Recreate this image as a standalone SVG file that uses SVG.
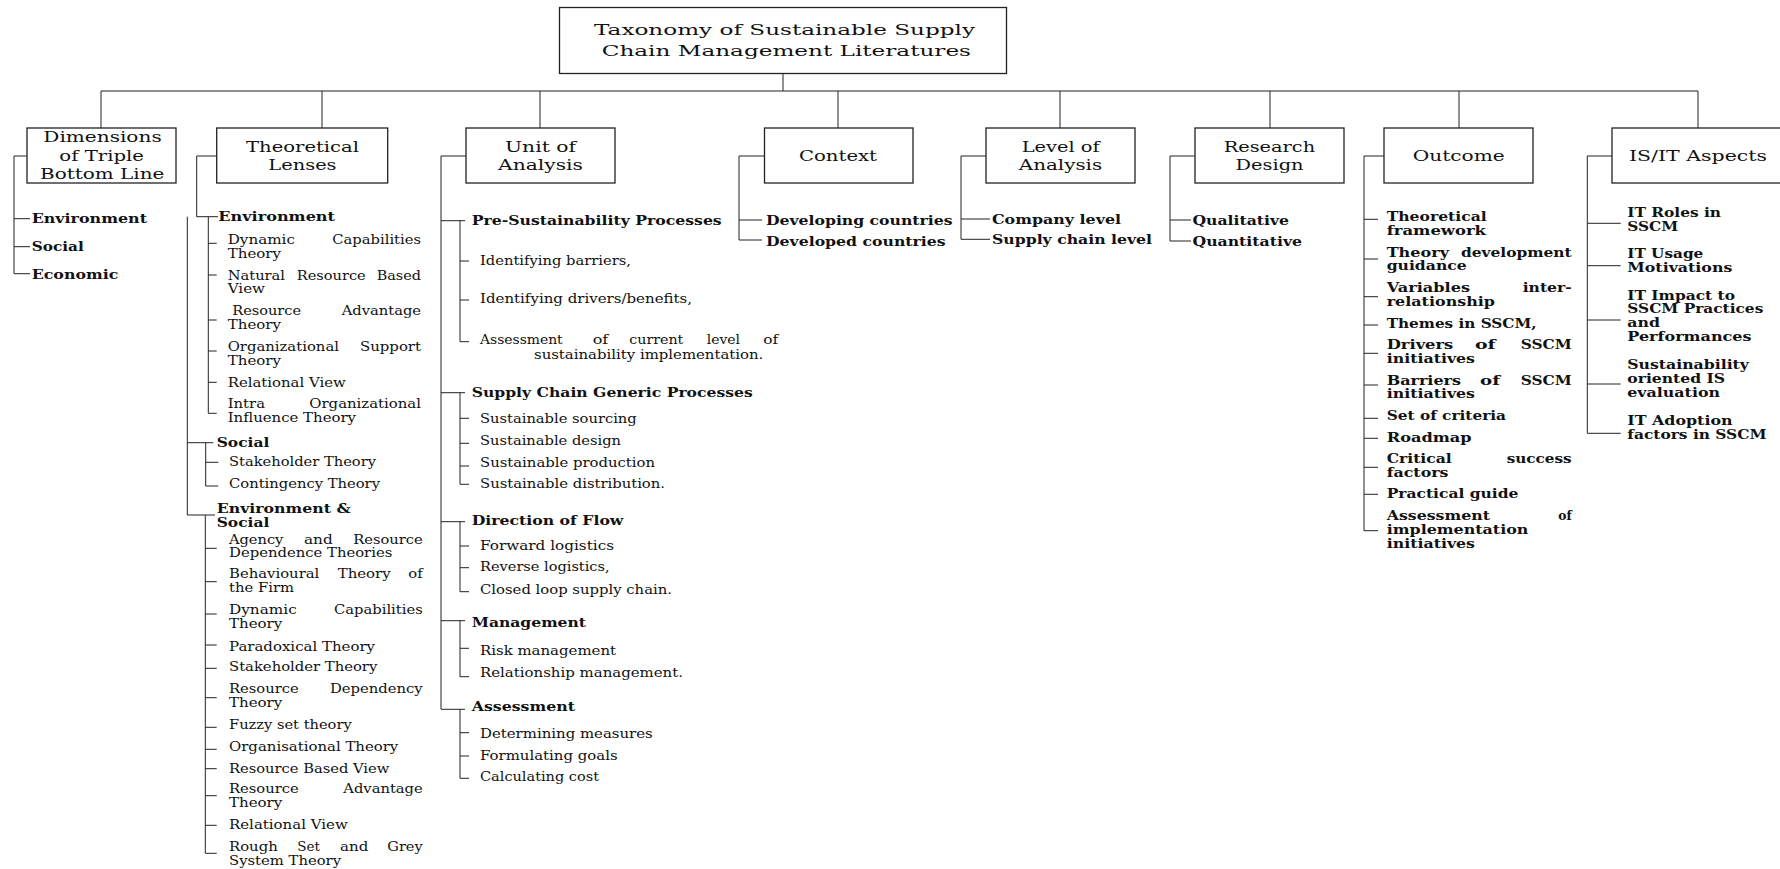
<svg xmlns="http://www.w3.org/2000/svg" width="1780" height="869" viewBox="0 0 1780 869">
<style>
.bx{fill:#fff;stroke:#222;stroke-width:1.3}
.c path{fill:none;stroke:#222;stroke-width:1}
text{font-family:"DejaVu Serif","Liberation Serif",serif;fill:#111}
.h{font-size:15px}
.i{font-size:12.5px}
.ib{font-size:12.5px;font-weight:bold}
</style>
<rect width="1780" height="869" fill="#fff"/>
<g class="c" id="connectors">
<path d="M783 74V91M101 91H1698M101 91V128M322 91V128M540 91V128M838 91V128M1060 91V128M1270 91V128M1459 91V128M1698 91V128"/>
<path d="M27 156H14V273.7H30M14 218.7H30M14 246.7H30"/>
<path d="M216.7 156H196.7V216.7H218M208.3 216.7V413.3H216.7M208.3 243.3H216.7M208.3 275H216.7M208.3 320H216.7M208.3 351H216.7M208.3 382.3H216.7"/>
<path d="M187.3 216.7V515H215M187.3 442.7H213.3M205.7 442.7V486H218.3M205.7 462.3H218.3"/>
<path d="M205.3 515V853.3H216.7M205.3 548.3H216.7M205.3 581.7H216.7M205.3 614H216.7M205.3 645H216.7M205.3 668.3H216.7M205.3 697.7H216.7M205.3 727.3H216.7M205.3 749.3H216.7M205.3 768.7H216.7M205.3 795.7H216.7M205.3 825.3H216.7"/>
<path d="M466 156H441V709.3H465M441 220.7H465M441 392.7H465M441 521.7H465M441 620.7H465"/>
<path d="M460 220.7V341.7H469M460 261H469M460 300H469M460 392.7V484.3H469M460 418.3H469M460 443.3H469M460 466H469M460 521.7V591.7H469M460 546H469M460 567.7H469M460 620.7V676.7H469M460 648.3H469M460 709.3V778.3H469M460 732.7H469M460 756H469"/>
<path d="M764.5 156H739V240H762M739 220H762"/>
<path d="M986 156H961V239.3H990M961 219H990"/>
<path d="M1195 156H1170V241H1191M1170 220H1191"/>
<path d="M1384 156H1364V530.7H1378M1364 219.3H1378M1364 259H1378M1364 296.7H1378M1364 325H1378M1364 353.3H1378M1364 385H1378M1364 418.3H1378M1364 438.3H1378M1364 467.3H1378M1364 494.3H1378"/>
<path d="M1612 156H1587.3V433.3H1620.7M1587.3 223.3H1620.7M1587.3 265.7H1620.7M1587.3 320H1620.7M1587.3 384H1620.7"/>
</g>

<g id="title">
<rect class="bx" x="559.5" y="7.5" width="447" height="66"/>
<text class="h" x="594" y="34.5" textLength="381" lengthAdjust="spacingAndGlyphs">Taxonomy of Sustainable Supply</text>
<text class="h" x="601.7" y="56" textLength="369.3" lengthAdjust="spacingAndGlyphs">Chain Management Literatures</text>
</g>

<g id="dimensions">
<rect class="bx" x="27" y="128" width="149" height="55"/>
<text class="h" x="43.3" y="142.3" textLength="118.4" lengthAdjust="spacingAndGlyphs">Dimensions</text>
<text class="h" x="59.3" y="161" textLength="84.7" lengthAdjust="spacingAndGlyphs">of Triple</text>
<text class="h" x="40" y="179.3" textLength="124.3" lengthAdjust="spacingAndGlyphs">Bottom Line</text>
</g>
<g id="dim-items">
<text class="ib" x="31.7" y="222.7" textLength="115.3" lengthAdjust="spacingAndGlyphs">Environment</text>
<text class="ib" x="31.7" y="250.7" textLength="52" lengthAdjust="spacingAndGlyphs">Social</text>
<text class="ib" x="31.7" y="278.7" textLength="86.6" lengthAdjust="spacingAndGlyphs">Economic</text>
</g>

<g id="theoretical">
<rect class="bx" x="216.7" y="128" width="171" height="55"/>
<text class="h" x="246" y="151.7" textLength="113" lengthAdjust="spacingAndGlyphs">Theoretical</text>
<text class="h" x="268.3" y="170" textLength="68.3" lengthAdjust="spacingAndGlyphs">Lenses</text>
</g>
<g id="th-environment">
<text class="ib" x="218.3" y="220.7" textLength="116.7" lengthAdjust="spacingAndGlyphs">Environment</text>
<text class="i" x="227.7" y="244" textLength="67.3" lengthAdjust="spacingAndGlyphs">Dynamic</text>
<text class="i" x="332.3" y="244" textLength="88.7" lengthAdjust="spacingAndGlyphs">Capabilities</text>
<text class="i" x="227.7" y="257.7" textLength="53.3" lengthAdjust="spacingAndGlyphs">Theory</text>
<text class="i" x="227.7" y="280" textLength="57.3" lengthAdjust="spacingAndGlyphs">Natural</text>
<text class="i" x="296.7" y="280" textLength="69" lengthAdjust="spacingAndGlyphs">Resource</text>
<text class="i" x="376.7" y="280" textLength="44.3" lengthAdjust="spacingAndGlyphs">Based</text>
<text class="i" x="227.7" y="293.3" textLength="37.3" lengthAdjust="spacingAndGlyphs">View</text>
<text class="i" x="232.3" y="315" textLength="68.7" lengthAdjust="spacingAndGlyphs">Resource</text>
<text class="i" x="341.7" y="315" textLength="79.3" lengthAdjust="spacingAndGlyphs">Advantage</text>
<text class="i" x="227.7" y="329" textLength="53.3" lengthAdjust="spacingAndGlyphs">Theory</text>
<text class="i" x="227.7" y="351" textLength="111.3" lengthAdjust="spacingAndGlyphs">Organizational</text>
<text class="i" x="360" y="351" textLength="61" lengthAdjust="spacingAndGlyphs">Support</text>
<text class="i" x="227.7" y="365" textLength="53.3" lengthAdjust="spacingAndGlyphs">Theory</text>
<text class="i" x="227.7" y="386.7" textLength="118" lengthAdjust="spacingAndGlyphs">Relational View</text>
<text class="i" x="227.7" y="407.7" textLength="37.3" lengthAdjust="spacingAndGlyphs">Intra</text>
<text class="i" x="309.3" y="407.7" textLength="111.7" lengthAdjust="spacingAndGlyphs">Organizational</text>
<text class="i" x="227.7" y="421.7" textLength="128.3" lengthAdjust="spacingAndGlyphs">Influence Theory</text>
</g>
<g id="th-social">
<text class="ib" x="216.7" y="446.7" textLength="52.7" lengthAdjust="spacingAndGlyphs">Social</text>
<text class="i" x="229" y="466" textLength="147" lengthAdjust="spacingAndGlyphs">Stakeholder Theory</text>
<text class="i" x="229" y="488" textLength="151" lengthAdjust="spacingAndGlyphs">Contingency Theory</text>
</g>
<g id="th-env-social">
<text class="ib" x="216.7" y="512.7" textLength="134" lengthAdjust="spacingAndGlyphs">Environment &amp;</text>
<text class="ib" x="216.7" y="526.7" textLength="52.7" lengthAdjust="spacingAndGlyphs">Social</text>
<text class="i" x="229" y="543.7" textLength="54.3" lengthAdjust="spacingAndGlyphs">Agency</text>
<text class="i" x="304" y="543.7" textLength="28.7" lengthAdjust="spacingAndGlyphs">and</text>
<text class="i" x="353.3" y="543.7" textLength="69.4" lengthAdjust="spacingAndGlyphs">Resource</text>
<text class="i" x="229" y="557.3" textLength="163.3" lengthAdjust="spacingAndGlyphs">Dependence Theories</text>
<text class="i" x="229" y="578.3" textLength="90.3" lengthAdjust="spacingAndGlyphs">Behavioural</text>
<text class="i" x="337.7" y="578.3" textLength="53" lengthAdjust="spacingAndGlyphs">Theory</text>
<text class="i" x="408.3" y="578.3" textLength="14.4" lengthAdjust="spacingAndGlyphs">of</text>
<text class="i" x="229" y="592.3" textLength="65" lengthAdjust="spacingAndGlyphs">the Firm</text>
<text class="i" x="229" y="614.3" textLength="67.7" lengthAdjust="spacingAndGlyphs">Dynamic</text>
<text class="i" x="334" y="614.3" textLength="88.7" lengthAdjust="spacingAndGlyphs">Capabilities</text>
<text class="i" x="229" y="628.3" textLength="53.3" lengthAdjust="spacingAndGlyphs">Theory</text>
<text class="i" x="229" y="650.7" textLength="146" lengthAdjust="spacingAndGlyphs">Paradoxical Theory</text>
<text class="i" x="229" y="671" textLength="148.3" lengthAdjust="spacingAndGlyphs">Stakeholder Theory</text>
<text class="i" x="229" y="693.3" textLength="69.7" lengthAdjust="spacingAndGlyphs">Resource</text>
<text class="i" x="330" y="693.3" textLength="92.7" lengthAdjust="spacingAndGlyphs">Dependency</text>
<text class="i" x="229" y="707.3" textLength="53.3" lengthAdjust="spacingAndGlyphs">Theory</text>
<text class="i" x="229" y="728.7" textLength="122.7" lengthAdjust="spacingAndGlyphs">Fuzzy set theory</text>
<text class="i" x="229" y="750.7" textLength="169.3" lengthAdjust="spacingAndGlyphs">Organisational Theory</text>
<text class="i" x="229" y="772.7" textLength="160.3" lengthAdjust="spacingAndGlyphs">Resource Based View</text>
<text class="i" x="229" y="793.3" textLength="69.7" lengthAdjust="spacingAndGlyphs">Resource</text>
<text class="i" x="343.3" y="793.3" textLength="79.4" lengthAdjust="spacingAndGlyphs">Advantage</text>
<text class="i" x="229" y="807.3" textLength="53.3" lengthAdjust="spacingAndGlyphs">Theory</text>
<text class="i" x="229" y="829" textLength="118.7" lengthAdjust="spacingAndGlyphs">Relational View</text>
<text class="i" x="229" y="851" textLength="48.7" lengthAdjust="spacingAndGlyphs">Rough</text>
<text class="i" x="297.3" y="851" textLength="22.7" lengthAdjust="spacingAndGlyphs">Set</text>
<text class="i" x="340" y="851" textLength="28.3" lengthAdjust="spacingAndGlyphs">and</text>
<text class="i" x="387.3" y="851" textLength="35.4" lengthAdjust="spacingAndGlyphs">Grey</text>
<text class="i" x="229" y="864.5" textLength="112" lengthAdjust="spacingAndGlyphs">System Theory</text>
</g>

<g id="unit">
<rect class="bx" x="466" y="128" width="149" height="55"/>
<text class="h" x="505" y="151.7" textLength="71" lengthAdjust="spacingAndGlyphs">Unit of</text>
<text class="h" x="498" y="170" textLength="85" lengthAdjust="spacingAndGlyphs">Analysis</text>
</g>
<g id="u-pre">
<text class="ib" x="471.7" y="225" textLength="250" lengthAdjust="spacingAndGlyphs">Pre-Sustainability Processes</text>
<text class="i" x="480" y="265" textLength="151" lengthAdjust="spacingAndGlyphs">Identifying barriers,</text>
<text class="i" x="480" y="303.3" textLength="212" lengthAdjust="spacingAndGlyphs">Identifying drivers/benefits,</text>
<text class="i" x="480" y="344" textLength="82.7" lengthAdjust="spacingAndGlyphs">Assessment</text>
<text class="i" x="592.7" y="344" textLength="15.6" lengthAdjust="spacingAndGlyphs">of</text>
<text class="i" x="629.3" y="344" textLength="54" lengthAdjust="spacingAndGlyphs">current</text>
<text class="i" x="706.7" y="344" textLength="33.3" lengthAdjust="spacingAndGlyphs">level</text>
<text class="i" x="763.3" y="344" textLength="15" lengthAdjust="spacingAndGlyphs">of</text>
<text class="i" x="534" y="359.3" textLength="229.3" lengthAdjust="spacingAndGlyphs">sustainability implementation.</text>
</g>
<g id="u-generic">
<text class="ib" x="471.7" y="396.7" textLength="281" lengthAdjust="spacingAndGlyphs">Supply Chain Generic Processes</text>
<text class="i" x="480" y="422.7" textLength="156.7" lengthAdjust="spacingAndGlyphs">Sustainable sourcing</text>
<text class="i" x="480" y="445" textLength="141" lengthAdjust="spacingAndGlyphs">Sustainable design</text>
<text class="i" x="480" y="466.7" textLength="175" lengthAdjust="spacingAndGlyphs">Sustainable production</text>
<text class="i" x="480" y="488.3" textLength="185" lengthAdjust="spacingAndGlyphs">Sustainable distribution.</text>
</g>
<g id="u-flow">
<text class="ib" x="471.7" y="524.5" textLength="151.7" lengthAdjust="spacingAndGlyphs">Direction of Flow</text>
<text class="i" x="480" y="549.5" textLength="134" lengthAdjust="spacingAndGlyphs">Forward logistics</text>
<text class="i" x="480" y="571" textLength="129.6" lengthAdjust="spacingAndGlyphs">Reverse logistics,</text>
<text class="i" x="480" y="593.5" textLength="192" lengthAdjust="spacingAndGlyphs">Closed loop supply chain.</text>
</g>
<g id="u-management">
<text class="ib" x="471.7" y="627" textLength="114.3" lengthAdjust="spacingAndGlyphs">Management</text>
<text class="i" x="480" y="654.5" textLength="136" lengthAdjust="spacingAndGlyphs">Risk management</text>
<text class="i" x="480" y="677" textLength="203" lengthAdjust="spacingAndGlyphs">Relationship management.</text>
</g>
<g id="u-assessment">
<text class="ib" x="471.7" y="710.5" textLength="103.3" lengthAdjust="spacingAndGlyphs">Assessment</text>
<text class="i" x="480" y="737.5" textLength="172.7" lengthAdjust="spacingAndGlyphs">Determining measures</text>
<text class="i" x="480" y="759.5" textLength="137.6" lengthAdjust="spacingAndGlyphs">Formulating goals</text>
<text class="i" x="480" y="780.5" textLength="119" lengthAdjust="spacingAndGlyphs">Calculating cost</text>
</g>

<g id="context">
<rect class="bx" x="764.5" y="128" width="148.5" height="55"/>
<text class="h" x="799" y="161" textLength="78" lengthAdjust="spacingAndGlyphs">Context</text>
</g>
<g id="context-items">
<text class="ib" x="766" y="224.5" textLength="186.5" lengthAdjust="spacingAndGlyphs">Developing countries</text>
<text class="ib" x="766" y="246" textLength="179.6" lengthAdjust="spacingAndGlyphs">Developed countries</text>
</g>

<g id="level">
<rect class="bx" x="986" y="128" width="149" height="55"/>
<text class="h" x="1021.7" y="151.7" textLength="78" lengthAdjust="spacingAndGlyphs">Level of</text>
<text class="h" x="1018.8" y="170" textLength="83.4" lengthAdjust="spacingAndGlyphs">Analysis</text>
</g>
<g id="level-items">
<text class="ib" x="992" y="223.5" textLength="129" lengthAdjust="spacingAndGlyphs">Company level</text>
<text class="ib" x="992" y="244" textLength="160" lengthAdjust="spacingAndGlyphs">Supply chain level</text>
</g>

<g id="research">
<rect class="bx" x="1195" y="128" width="149" height="55"/>
<text class="h" x="1223.7" y="151.7" textLength="91.4" lengthAdjust="spacingAndGlyphs">Research</text>
<text class="h" x="1235.6" y="170" textLength="68" lengthAdjust="spacingAndGlyphs">Design</text>
</g>
<g id="research-items">
<text class="ib" x="1192.5" y="224.5" textLength="96.5" lengthAdjust="spacingAndGlyphs">Qualitative</text>
<text class="ib" x="1192.5" y="245.5" textLength="109.5" lengthAdjust="spacingAndGlyphs">Quantitative</text>
</g>

<g id="outcome">
<rect class="bx" x="1384" y="128" width="149" height="55"/>
<text class="h" x="1412.7" y="161" textLength="92" lengthAdjust="spacingAndGlyphs">Outcome</text>
</g>
<g id="outcome-items">
<text class="ib" x="1386.7" y="220.5" textLength="100" lengthAdjust="spacingAndGlyphs">Theoretical</text>
<text class="ib" x="1386.7" y="234.5" textLength="99.3" lengthAdjust="spacingAndGlyphs">framework</text>
<text class="ib" x="1386.7" y="256.7" textLength="62.3" lengthAdjust="spacingAndGlyphs">Theory</text>
<text class="ib" x="1461" y="256.7" textLength="110.7" lengthAdjust="spacingAndGlyphs">development</text>
<text class="ib" x="1386.7" y="270" textLength="80" lengthAdjust="spacingAndGlyphs">guidance</text>
<text class="ib" x="1386.7" y="291.7" textLength="83.3" lengthAdjust="spacingAndGlyphs">Variables</text>
<text class="ib" x="1522.7" y="291.7" textLength="49" lengthAdjust="spacingAndGlyphs">inter-</text>
<text class="ib" x="1386.7" y="305.7" textLength="108.3" lengthAdjust="spacingAndGlyphs">relationship</text>
<text class="ib" x="1386.7" y="327.7" textLength="150" lengthAdjust="spacingAndGlyphs">Themes in SSCM,</text>
<text class="ib" x="1386.7" y="349" textLength="66.6" lengthAdjust="spacingAndGlyphs">Drivers</text>
<text class="ib" x="1475" y="349" textLength="20.7" lengthAdjust="spacingAndGlyphs">of</text>
<text class="ib" x="1520.7" y="349" textLength="51" lengthAdjust="spacingAndGlyphs">SSCM</text>
<text class="ib" x="1386.7" y="362.7" textLength="88.3" lengthAdjust="spacingAndGlyphs">initiatives</text>
<text class="ib" x="1386.7" y="385" textLength="74.3" lengthAdjust="spacingAndGlyphs">Barriers</text>
<text class="ib" x="1480" y="385" textLength="20" lengthAdjust="spacingAndGlyphs">of</text>
<text class="ib" x="1520.7" y="385" textLength="51" lengthAdjust="spacingAndGlyphs">SSCM</text>
<text class="ib" x="1386.7" y="398.3" textLength="88.3" lengthAdjust="spacingAndGlyphs">initiatives</text>
<text class="ib" x="1386.7" y="420" textLength="119.3" lengthAdjust="spacingAndGlyphs">Set of criteria</text>
<text class="ib" x="1386.7" y="441.7" textLength="85" lengthAdjust="spacingAndGlyphs">Roadmap</text>
<text class="ib" x="1386.7" y="463.3" textLength="65" lengthAdjust="spacingAndGlyphs">Critical</text>
<text class="ib" x="1506.7" y="463.3" textLength="65" lengthAdjust="spacingAndGlyphs">success</text>
<text class="ib" x="1386.7" y="477.3" textLength="61.7" lengthAdjust="spacingAndGlyphs">factors</text>
<text class="ib" x="1386.7" y="498.3" textLength="131.7" lengthAdjust="spacingAndGlyphs">Practical guide</text>
<text class="ib" x="1386.7" y="520" textLength="103.3" lengthAdjust="spacingAndGlyphs">Assessment</text>
<text class="ib" x="1558.3" y="520" textLength="13.4" lengthAdjust="spacingAndGlyphs">of</text>
<text class="ib" x="1386.7" y="534.3" textLength="141.7" lengthAdjust="spacingAndGlyphs">implementation</text>
<text class="ib" x="1386.7" y="548.3" textLength="88.3" lengthAdjust="spacingAndGlyphs">initiatives</text>
</g>

<g id="isit">
<rect class="bx" x="1612" y="128" width="180" height="55"/>
<text class="h" x="1629" y="161" textLength="138" lengthAdjust="spacingAndGlyphs">IS/IT Aspects</text>
</g>
<g id="isit-items">
<text class="ib" x="1627.3" y="216.7" textLength="93.7" lengthAdjust="spacingAndGlyphs">IT Roles in</text>
<text class="ib" x="1627.3" y="230.5" textLength="51" lengthAdjust="spacingAndGlyphs">SSCM</text>
<text class="ib" x="1627.3" y="258.3" textLength="76" lengthAdjust="spacingAndGlyphs">IT Usage</text>
<text class="ib" x="1627.3" y="271.7" textLength="105" lengthAdjust="spacingAndGlyphs">Motivations</text>
<text class="ib" x="1627.3" y="300" textLength="107.7" lengthAdjust="spacingAndGlyphs">IT Impact to</text>
<text class="ib" x="1627.3" y="313.3" textLength="136" lengthAdjust="spacingAndGlyphs">SSCM Practices</text>
<text class="ib" x="1627.3" y="327.3" textLength="32.7" lengthAdjust="spacingAndGlyphs">and</text>
<text class="ib" x="1627.3" y="341" textLength="124.3" lengthAdjust="spacingAndGlyphs">Performances</text>
<text class="ib" x="1627.3" y="369.3" textLength="121.7" lengthAdjust="spacingAndGlyphs">Sustainability</text>
<text class="ib" x="1627.3" y="383.3" textLength="97.7" lengthAdjust="spacingAndGlyphs">oriented IS</text>
<text class="ib" x="1627.3" y="397.3" textLength="92.7" lengthAdjust="spacingAndGlyphs">evaluation</text>
<text class="ib" x="1627.3" y="425" textLength="105.3" lengthAdjust="spacingAndGlyphs">IT Adoption</text>
<text class="ib" x="1627.3" y="438.5" textLength="139.3" lengthAdjust="spacingAndGlyphs">factors in SSCM</text>
</g>
</svg>
